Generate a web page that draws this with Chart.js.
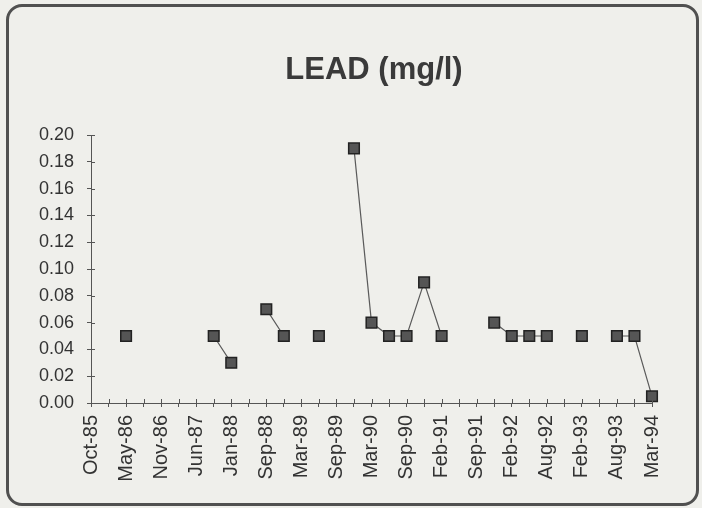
<!DOCTYPE html>
<html>
<head>
<meta charset="utf-8">
<script src="https://cdn.jsdelivr.net/npm/chart.js@4.4.1/dist/chart.umd.min.js"></script>
<style>
  html, body { margin: 0; padding: 0; background: #efefeb; }
  #wrap { position: relative; width: 702px; height: 508px; }
  #frame {
    position: absolute; left: 6px; top: 4px; width: 687px; height: 496px;
    border: 3px solid #505050; border-radius: 16px;
  }
  canvas { position: absolute; left: 0; top: 0; }
</style>
</head>
<body>
<div id="wrap">
  <div id="frame"></div>
  <canvas id="leadChart" width="702" height="508"></canvas>
</div>
<script>
// axis labels, one per major tick
const tickLabels = ['Oct-85', 'May-86', 'Nov-86', 'Jun-87', 'Jan-88', 'Sep-88', 'Mar-89', 'Sep-89',
  'Mar-90', 'Sep-90', 'Feb-91', 'Sep-91', 'Feb-92', 'Aug-92', 'Feb-93', 'Aug-93', 'Mar-94'];

// lead results, one slot per half tick interval; null = no sample (breaks the line)
const leadValues = [
  null, null, 0.05, null, null, null, null, 0.05, 0.03, null,
  0.07, 0.05, null, 0.05, null, 0.19, 0.06, 0.05, 0.05, 0.09,
  0.05, null, null, 0.06, 0.05, 0.05, 0.05, null, 0.05, null,
  0.05, 0.05, 0.005
];

const chartTitle = 'LEAD (mg/l)';

const points = leadValues.map((v, i) => ({ x: i / 2, y: v }));

// title drawn off-centre over the plot, plus tick marks that cross the axes
const frameTitle = {
  id: 'frameTitle',
  afterDraw(chart) {
    const ctx = chart.ctx;
    ctx.save();
    ctx.fillStyle = '#3a3a3a';
    ctx.font = 'bold 31px "Liberation Sans", Arial, sans-serif';
    ctx.textAlign = 'center';
    ctx.textBaseline = 'middle';
    ctx.fillText(chartTitle, 374, 70);

    const { x, y } = chart.scales;
    ctx.strokeStyle = '#555';
    ctx.lineWidth = 1;
    ctx.beginPath();
    y.ticks.forEach((t) => {
      const py = Math.round(y.getPixelForValue(t.value)) + 0.5;
      ctx.moveTo(x.left, py);
      ctx.lineTo(x.left + 4, py);
    });
    x.ticks.forEach((t) => {
      const px = Math.round(x.getPixelForValue(t.value)) + 0.5;
      ctx.moveTo(px, y.bottom);
      ctx.lineTo(px, y.bottom - 4);
    });
    ctx.stroke();
    ctx.restore();
  }
};

const fontFamily = '"Liberation Sans", Arial, sans-serif';

const ctx = document.getElementById('leadChart').getContext('2d');
const chart = new Chart(ctx, {
  type: 'line',
  data: {
    datasets: [{
      data: points,
      clip: false,
      borderColor: '#5a5a5a',
      borderWidth: 1.2,
      spanGaps: false,
      pointStyle: 'rect',
      pointRadius: 7.5,
      pointBackgroundColor: '#555',
      pointBorderColor: '#222',
      pointBorderWidth: 1.5
    }]
  },
  options: {
    responsive: false,
    animation: false,
    layout: { padding: { top: 135, right: 50, left: 0, bottom: 0 } },
    plugins: {
      legend: { display: false },
      tooltip: { enabled: false },
      title: { display: false }
    },
    scales: {
      x: {
        type: 'linear',
        min: 0,
        max: 16,
        afterFit(scale) { scale.height = 105; },
        border: { color: '#555', width: 1 },
        grid: { drawOnChartArea: false, tickLength: 4, color: '#555' },
        ticks: {
          stepSize: 0.5,
          autoSkip: false,
          minRotation: 90,
          maxRotation: 90,
          padding: 8,
          color: '#333',
          font: { family: fontFamily, size: 20 },
          callback: (v) => Number.isInteger(v) ? tickLabels[v] : ''
        }
      },
      y: {
        min: 0,
        max: 0.2,
        afterFit(scale) { scale.width = 91; },
        border: { color: '#555', width: 1 },
        grid: { drawOnChartArea: false, tickLength: 4, color: '#555' },
        ticks: {
          stepSize: 0.02,
          padding: 13,
          color: '#333',
          font: { family: fontFamily, size: 18 },
          callback: (v) => v.toFixed(2)
        }
      }
    }
  },
  plugins: [frameTitle]
});
</script>
</body>
</html>
